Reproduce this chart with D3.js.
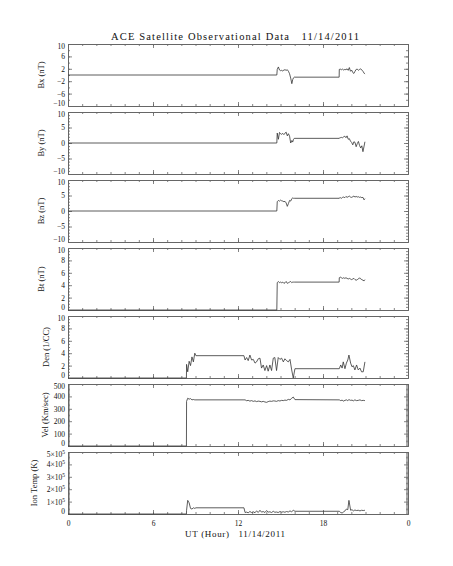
<!DOCTYPE html>
<html>
<head>
<meta charset="utf-8">
<script src="https://cdn.jsdelivr.net/npm/d3@7"></script>
<style>
  body { margin: 0; background: #fff; }
  text { font-family: "Liberation Serif", serif; fill: #111; }
</style>
</head>
<body>
<div id="chart"></div>
<script>
// magnetometer samples (hours UT)
var magHours = [0, 14.74, 14.77, 14.85, 14.93, 15.0, 15.08, 15.16, 15.24, 15.32, 15.4, 15.48, 15.56, 15.64, 15.72, 15.8, 15.86, 15.92, 15.97, 19.14,
    19.15, 19.22, 19.3, 19.38, 19.46, 19.54, 19.62, 19.7, 19.78, 19.86, 19.94, 20.02, 20.1, 20.18, 20.26, 20.34, 20.42, 20.5, 20.58, 20.66, 20.74, 20.82, 20.9, 20.96];
var bx = [0, 0, 1.8, 2.6, 1.6, 1.4, 1.5, 1.3, 1.6, 1.7, 1.5, 1.7, 1.2, 0.4, -1.0, -2.8, -1.5, -0.9, -0.7, -0.7,
    1.8, 1.9, 1.7, 1.9, 1.6, 1.8, 1.7, 2.0, 1.5, 2.4, 1.2, 1.6, 0.8, 0.5, 1.2, 1.8, 1.9, 1.5, 1.8, 2.0, 1.6, 1.2, 0.6, 0.3];
var by = [0, 0, 3.2, 1.2, 3.4, 3.0, 2.8, 3.1, 2.7, 3.2, 3.5, 2.3, 3.0, 2.2, 0.0, 0.8, 0.3, 1.2, 1.5, 1.5,
    1.6, 1.7, 1.8, 1.7, 2.0, 2.2, 1.7, 2.3, 1.2, 1.4, 0.6, 0.2, -0.6, 0.4, 0.2, -1.2, -0.2, 0.5, -0.8, -1.6, -0.9, -2.8, -1.0, 0.4];
var bz = [0, 0, 3.0, 3.4, 3.2, 3.5, 3.3, 3.2, 3.0, 3.1, 2.6, 1.5, 2.4, 3.4, 3.2, 4.0, 4.2, 4.1, 4.1, 4.1,
    4.2, 4.3, 4.1, 4.4, 4.5, 4.3, 4.7, 4.4, 4.6, 4.8, 4.5, 4.4, 4.6, 4.8, 4.5, 4.7, 4.5, 4.6, 4.4, 4.5, 4.3, 4.4, 3.6, 4.0];
var bt = [0, 0, 4.4, 4.6, 4.4, 4.5, 4.4, 4.5, 4.3, 4.4, 4.6, 4.3, 4.4, 4.5, 4.6, 4.4, 4.5, 4.5, 4.5, 4.5,
    5.2, 5.3, 5.2, 5.1, 5.2, 5.1, 5.2, 5.1, 5.0, 5.1, 5.0, 4.9, 5.0, 5.1, 4.9, 4.8, 4.9, 5.0, 5.2, 5.0, 4.9, 4.8, 4.7, 4.9];

// plasma samples (hours UT)
var plasmaHours = [0, 8.36, 8.37, 8.45, 8.55, 8.65, 8.75, 8.85, 8.95, 9.03, 12.42,
    12.5, 12.61, 12.72, 12.84, 12.96, 13.08, 13.2, 13.31, 13.43, 13.55, 13.66, 13.78, 13.9, 14.02, 14.13, 14.25, 14.37, 14.49, 14.6,
    14.72, 14.84, 14.96, 15.08, 15.2, 15.31, 15.43, 15.55, 15.67, 15.79, 15.9, 16.02,
    19.15, 19.25, 19.35, 19.43, 19.55, 19.65, 19.75, 19.83, 19.95, 20.05, 20.14, 20.25, 20.37, 20.49, 20.61, 20.72, 20.84, 20.96];
var den = [0, 0, 2.2, 1.0, 2.7, 2.0, 3.4, 2.6, 4.0, 3.6, 3.6,
    2.9, 3.3, 2.8, 3.7, 2.9, 3.0, 2.4, 2.6, 3.1, 3.2, 1.6, 2.1, 1.2, 2.0, 1.1, 2.1, 1.2, 3.2, 3.3,
    1.2, 3.3, 3.0, 3.2, 2.6, 3.1, 2.8, 2.6, 3.0, 1.3, 0, 1.5,
    1.5, 2.1, 1.6, 2.6, 1.5, 2.4, 2.9, 3.7, 2.4, 1.8, 2.0, 1.3, 2.1, 1.3, 1.6, 1.0, 1.0, 2.6];
var vel = [0, 0, 360, 385, 378, 382, 372, 375, 372, 372, 372,
    372, 365, 368, 362, 366, 360, 364, 358, 362, 360, 356, 360, 355, 352, 358, 362, 360, 364, 363,
    360, 366, 363, 368, 366, 370, 368, 376, 372, 385, 395, 374,
    372, 366, 370, 362, 368, 372, 366, 374, 368, 370, 364, 372, 366, 368, 372, 366, 368, 366];
var temp = [0, 0, 30000, 110000, 90000, 45000, 40000, 50000, 45000, 50000, 50000,
    12000, 15000, 10000, 20000, 12000, 18000, 10000, 25000, 12000, 30000, 15000, 20000, 12000, 28000, 15000, 18000, 12000, 22000, 14000,
    16000, 12000, 20000, 15000, 18000, 14000, 20000, 16000, 25000, 18000, 30000, 22000,
    22000, 12000, 8000, 15000, 25000, 40000, 35000, 110000, 30000, 35000, 25000, 32000, 28000, 30000, 25000, 30000, 28000, 30000];

var panelTitles = ["Bx (nT)", "By (nT)", "Bz (nT)", "Bt (nT)", "Den (1/CC)", "Vel (Km/sec)", "Ion Temp (K)"];
var xTicks = [0, 6, 12, 18, 24];
var xTickLabels = ["0", "6", "12", "18", "0"];

var panels = [
    {t: magHours, v: bx, dom: [-10, 10], major: [-10, -6, -2, 2, 6, 10], minorStep: 2, tx: 40.5},
    {t: magHours, v: by, dom: [-10, 10], major: [-10, -5, 0, 5, 10], minorStep: 1, tx: 40.5},
    {t: magHours, v: bz, dom: [-10, 10], major: [-10, -5, 0, 5, 10], minorStep: 1, tx: 40.5},
    {t: magHours, v: bt, dom: [0, 10], major: [0, 2, 4, 6, 8, 10], minorStep: 0.5, tx: 40.5},
    {t: plasmaHours, v: den, dom: [0, 10], major: [0, 2, 4, 6, 8, 10], minorStep: 0.5, tx: 46},
    {t: plasmaHours, v: vel, dom: [0, 500], major: [0, 100, 200, 300, 400, 500], minorStep: 10, tx: 45},
    {t: plasmaHours, v: temp, dom: [0, 500000], major: [0, 100000, 200000, 300000, 400000, 500000], minorStep: 10000, tx: 33.5}
];

var W = 453, H = 566;
var left = 68, right = 408, top0 = 44, step = 68, ph = 62;

var svg = d3.select("#chart")
    .append("svg")
    .attr("width", W)
    .attr("height", H);

var x = d3.scaleLinear()
    .domain([0, 24])
    .range([left, right]);

var hourMinor = d3.range(0, 25, 1);
var axisColor = "#666";

svg.append("text")
    .attr("x", 235)
    .attr("y", 39.5)
    .attr("text-anchor", "middle")
    .attr("font-size", 10.5)
    .attr("textLength", 248)
    .attr("lengthAdjust", "spacing")
    .style("white-space", "pre")
    .text("ACE Satellite Observational Data   11/14/2011");

panels.forEach(function (p, i) {
    var top = top0 + i * step;
    var y = d3.scaleLinear()
        .domain(p.dom)
        .range([top + ph, top]);

    var minors = d3.range(p.dom[0], p.dom[1] + p.minorStep / 2, p.minorStep)
        .map(function (d) { return Math.round(d * 1000) / 1000; });

    var g = svg.append("g");

    // minor ticks
    g.append("g")
        .attr("transform", "translate(" + left + ",0)")
        .call(d3.axisLeft(y).tickValues(minors).tickSize(-2).tickSizeOuter(0).tickFormat(""));
    g.append("g")
        .attr("transform", "translate(" + right + ",0)")
        .call(d3.axisRight(y).tickValues(minors).tickSize(-2).tickSizeOuter(0).tickFormat(""));
    g.append("g")
        .attr("transform", "translate(0," + top + ")")
        .call(d3.axisTop(x).tickValues(hourMinor).tickSize(-2).tickSizeOuter(0).tickFormat(""));
    g.append("g")
        .attr("transform", "translate(0," + (top + ph) + ")")
        .call(d3.axisBottom(x).tickValues(hourMinor).tickSize(-2).tickSizeOuter(0).tickFormat(""));

    // major ticks
    var yl = g.append("g")
        .attr("transform", "translate(" + left + ",0)")
        .call(d3.axisLeft(y).tickValues(p.major).tickSize(-4).tickSizeOuter(0).tickPadding(3)
            .tickFormat(function (d) { return d < 0 ? "\u2212" + (-d) : d; }));
    g.append("g")
        .attr("transform", "translate(" + right + ",0)")
        .call(d3.axisRight(y).tickValues(p.major).tickSize(-4).tickSizeOuter(0).tickFormat(""));
    g.append("g")
        .attr("transform", "translate(0," + top + ")")
        .call(d3.axisTop(x).tickValues(xTicks).tickSize(-4).tickSizeOuter(0).tickFormat(""));
    g.append("g")
        .attr("transform", "translate(0," + (top + ph) + ")")
        .call(d3.axisBottom(x).tickValues(xTicks).tickSize(-4).tickSizeOuter(0).tickPadding(7)
            .tickFormat(i == panels.length - 1 ? function (d, k) { return xTickLabels[k]; } : ""));

    g.selectAll("path.domain").attr("stroke", axisColor).attr("stroke-width", 1);
    g.selectAll(".tick line").attr("stroke", axisColor).attr("stroke-width", 0.8);
    g.selectAll("text").attr("font-size", 7.5).attr("fill", "#111")
        .style("font-family", "'Liberation Serif', serif");

    // keep end labels inside the panel so neighbours don't collide
    yl.selectAll(".tick text")
        .attr("y", function (d) { return d == p.dom[1] ? 2.5 : (d == p.dom[0] ? -2.5 : 0); });

    // superscript exponents for the temperature axis
    if (p.dom[1] > 1000) {
        yl.selectAll(".tick text").each(function (d) {
            var t = d3.select(this).text("");
            if (d == 0) { t.text("0"); return; }
            t.append("tspan").text((d / 100000) + "\u00d710");
            t.append("tspan").attr("dy", -3).attr("font-size", 5.5).text("5");
        });
    }

    // data line
    var pts = p.t.map(function (h, k) { return [h, p.v[k]]; });
    g.append("path")
        .datum(pts)
        .attr("fill", "none")
        .attr("stroke", "#333")
        .attr("stroke-width", 0.8)
        .attr("d", d3.line()
            .x(function (d) { return x(d[0]); })
            .y(function (d) { return y(d[1]); }));

    svg.append("text")
        .attr("transform", "translate(" + p.tx + "," + (top + ph / 2) + ") rotate(-90)")
        .attr("text-anchor", "middle")
        .attr("dominant-baseline", "central")
        .attr("font-size", 8.5)
        .text(panelTitles[i]);
});

svg.append("text")
    .attr("x", 235)
    .attr("y", 536.5)
    .attr("text-anchor", "middle")
    .attr("font-size", 9)
    .attr("textLength", 100)
    .attr("lengthAdjust", "spacing")
    .style("white-space", "pre")
    .text("UT (Hour)   11/14/2011");
</script>
</body>
</html>
